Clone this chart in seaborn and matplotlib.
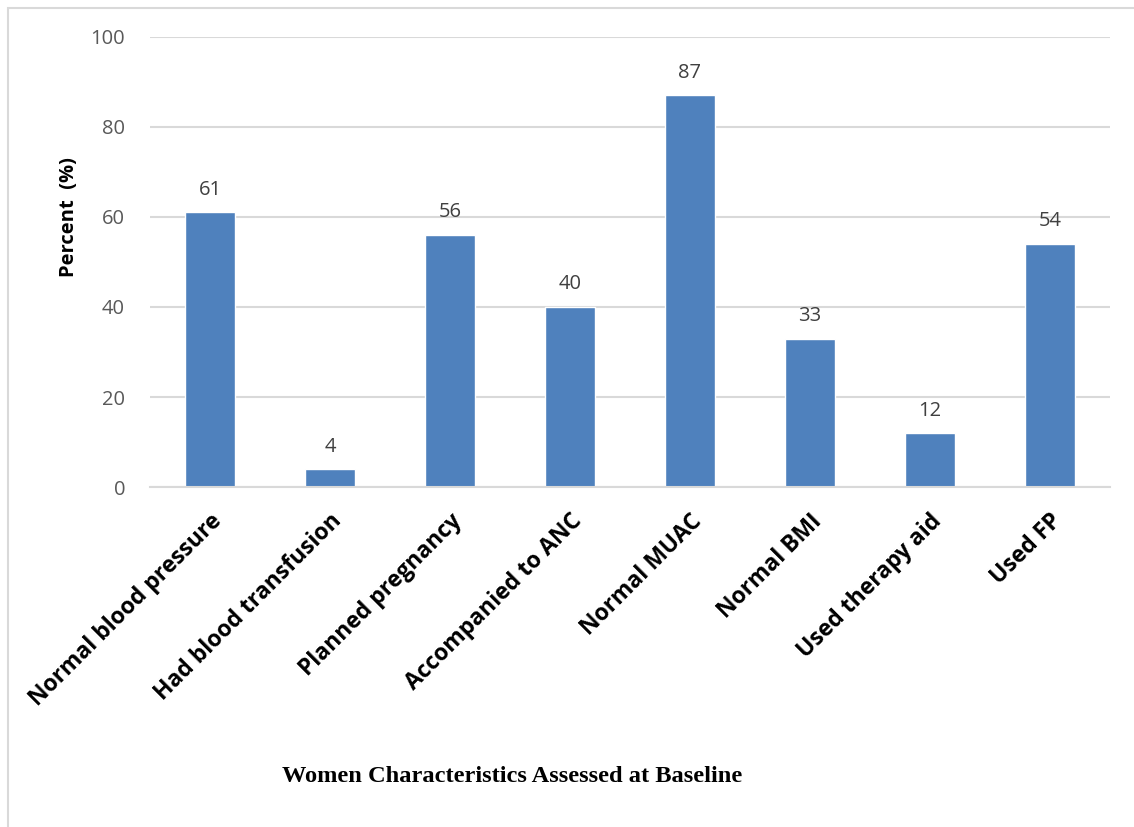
import matplotlib
matplotlib.use("Agg")
import matplotlib.pyplot as plt
import seaborn as sns
import pandas as pd
from matplotlib.patches import Rectangle

categories = [
    "Normal blood pressure",
    "Had blood transfusion",
    "Planned pregnancy",
    "Accompanied to ANC",
    "Normal MUAC",
    "Normal BMI",
    "Used therapy aid",
    "Used FP",
]
percent = [61, 4, 56, 40, 87, 33, 12, 54]
y_ticks = [0, 20, 40, 60, 80, 100]

df = pd.DataFrame({"category": categories, "percent": percent})

sns.set_theme(style="white")
plt.rcParams["font.family"] = ["Open Sans", "DejaVu Sans"]

fig = plt.figure(figsize=(11.34, 8.27), dpi=100)
ax = fig.add_axes([0.1323, 0.4111, 0.8465, 0.5442])

sns.barplot(data=df, x="category", y="percent", color="#4F81BD",
            width=0.41, saturation=1, ax=ax, zorder=3)

ax.set_ylim(0, 100)
ax.set_xlim(-0.5, len(categories) - 0.5)
ax.set_yticks(y_ticks)
ax.set_yticklabels([str(t) for t in y_ticks], fontsize=14.5, color="#595959")
ax.yaxis.grid(True, color="#D9D9D9", linewidth=1.5, zorder=0)
ax.xaxis.grid(False)
for side in ["top", "right", "left"]:
    ax.spines[side].set_visible(False)
ax.spines["bottom"].set_color("#D9D9D9")
ax.spines["bottom"].set_linewidth(1.5)
ax.spines["bottom"].set_zorder(4)
ax.tick_params(axis="both", length=0)
ax.tick_params(axis="y", pad=18)
ax.tick_params(axis="x", pad=16)

ax.set_xticks(range(len(categories)))
ax.set_xticklabels(categories, rotation=45, ha="right", rotation_mode="anchor",
                   fontsize=16.5, fontweight="bold", color="black")

for container in ax.containers:
    ax.bar_label(container, labels=[str(v) for v in percent], padding=9,
                 fontsize=14.5, color="#404040")

ax.set_ylabel("Percent  (%)", fontsize=14.5, fontweight="bold", color="black",
              labelpad=8)
ax.yaxis.set_label_coords(-0.074, 0.6)
ax.set_xlabel("")

fig.text(0.4515, 0.0605, "Women Characteristics Assessed at Baseline",
         ha="center", va="center", fontsize=17.6, fontweight="bold",
         family=["Liberation Serif", "DejaVu Serif"], color="black")

# chart frame
fig.patches.append(Rectangle((0.007, -0.01), 1.2, 1.0, transform=fig.transFigure,
                             fill=False, edgecolor="#D9D9D9", linewidth=1.5))

fig.savefig("out.png", dpi=100, facecolor="white")
